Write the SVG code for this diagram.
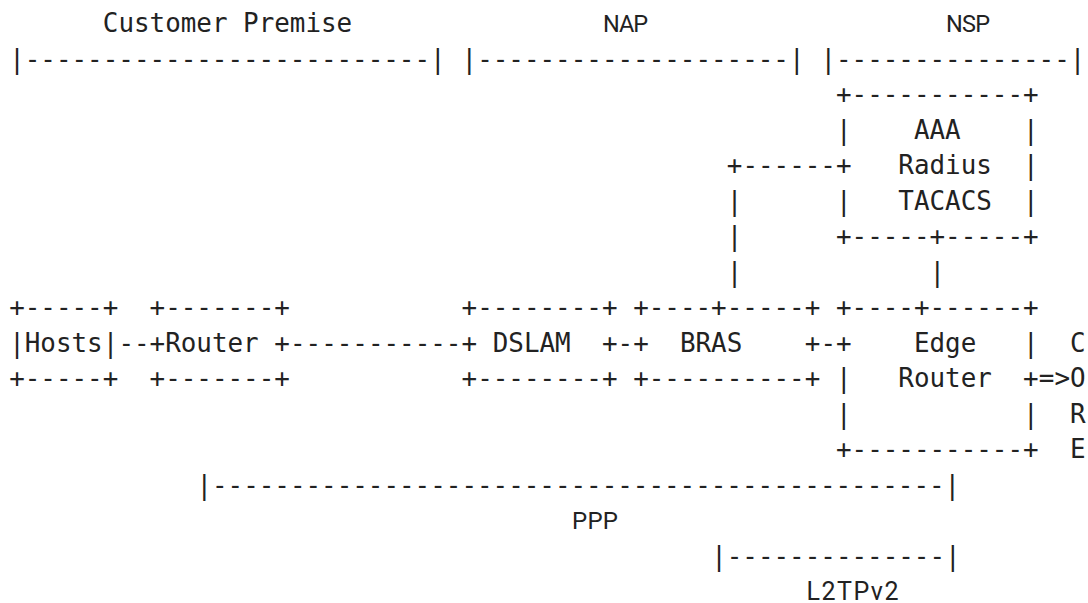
<svg xmlns="http://www.w3.org/2000/svg" width="1088" height="603" viewBox="0 0 1088 603">
<style>
.m{font-family:"DejaVu Sans Mono","Liberation Mono",monospace;font-size:25.9px;fill:#222;white-space:pre}
.s{font-family:Roboto,"Noto Sans",sans-serif;font-size:23.5px;fill:#222}
</style>
<rect width="1088" height="603" fill="#fff"/>
<g id="zones">
<text class="m" x="102.8" y="32">Customer Premise</text>
<text class="s" x="603" y="32" textLength="45">NAP</text>
<text class="s" x="946" y="32" textLength="44">NSP</text>
<text class="m" x="9.2" y="67.5">|--------------------------|</text>
<text class="m" x="461.6" y="67.5">|--------------------|</text>
<text class="m" x="820.4" y="67.5">|---------------|</text>
<text class="m" x="196.4" y="493.5">|-----------------------------------------------|</text>
<text class="s" x="572" y="529" style="font-size:24px" textLength="46">PPP</text>
<text class="m" x="711.2" y="564.5">|--------------|</text>
<text class="s" x="806.5" y="600" style="font-size:25px" textLength="92">L2TPv2</text>
</g>
<g id="hosts">
<text class="m" x="9.2" y="316">+-----+</text>
<text class="m" x="9.2" y="351.5">|Hosts|</text>
<text class="m" x="9.2" y="387">+-----+</text>
</g>
<g id="router">
<text class="m" x="149.6" y="316">+-------+</text>
<text class="m" x="149.6" y="351.5" xml:space="preserve">+Router +</text>
<text class="m" x="149.6" y="387">+-------+</text>
</g>
<g id="dslam">
<text class="m" x="461.6" y="316">+--------+</text>
<text class="m" x="461.6" y="351.5" xml:space="preserve">+ DSLAM  +</text>
<text class="m" x="461.6" y="387">+--------+</text>
</g>
<g id="bras">
<text class="m" x="633.2" y="316">+----+-----+</text>
<text class="m" x="633.2" y="351.5" xml:space="preserve">+  BRAS    +</text>
<text class="m" x="633.2" y="387">+----------+</text>
</g>
<g id="aaa">
<text class="m" x="836" y="103">+-----------+</text>
<text class="m" x="836" y="138.5" xml:space="preserve">|    AAA    |</text>
<text class="m" x="836" y="174" xml:space="preserve">+   Radius  |</text>
<text class="m" x="836" y="209.5" xml:space="preserve">|   TACACS  |</text>
<text class="m" x="836" y="245">+-----+-----+</text>
</g>
<g id="edge-router">
<text class="m" x="836" y="316">+----+------+</text>
<text class="m" x="836" y="351.5" xml:space="preserve">+    Edge   |</text>
<text class="m" x="836" y="387" xml:space="preserve">|   Router  +</text>
<text class="m" x="836" y="422.5" xml:space="preserve">|           |</text>
<text class="m" x="836" y="458">+-----------+</text>
</g>
<g id="core">
<text class="m" x="1070" y="351.5">C</text>
<text class="m" x="1070" y="387">O</text>
<text class="m" x="1070" y="422.5">R</text>
<text class="m" x="1070" y="458">E</text>
</g>
<g id="connectors">
<text class="m" x="118.4" y="351.5">--</text>
<text class="m" x="290" y="351.5">-----------</text>
<text class="m" x="617.6" y="351.5">-</text>
<text class="m" x="820.4" y="351.5">-</text>
<text class="m" x="1038.8" y="387">=&gt;</text>
<text class="m" x="726.8" y="174">+------</text>
<text class="m" x="726.8" y="209.5">|</text>
<text class="m" x="726.8" y="245">|</text>
<text class="m" x="726.8" y="280.5">|</text>
<text class="m" x="929.6" y="280.5">|</text>
</g>
</svg>
